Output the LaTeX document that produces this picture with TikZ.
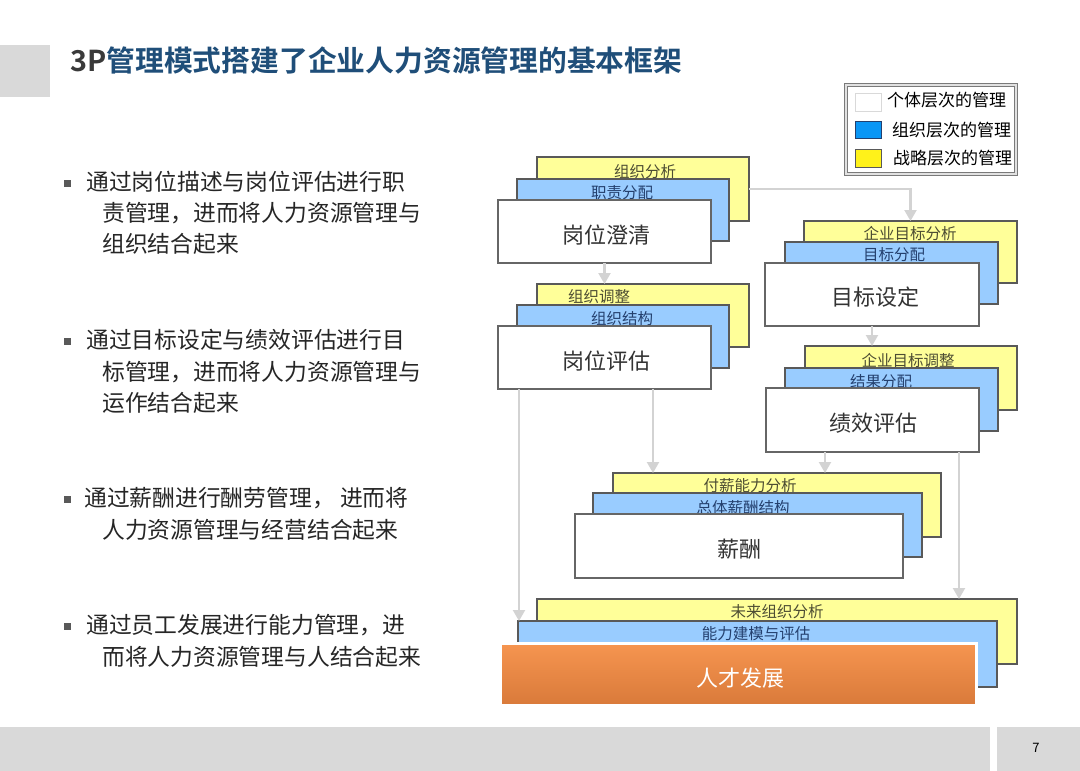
\documentclass[tikz,border=0pt]{standalone}
\usepackage{fontspec}
\setmainfont{Noto Sans CJK SC}[BoldFont={Noto Sans CJK SC Bold}]
\usetikzlibrary{arrows.meta,shadows}
\definecolor{barGray}{HTML}{D9D9D9}
\definecolor{titleBlue}{HTML}{1F4E79}
\definecolor{titleGray}{HTML}{3A3A3A}
\definecolor{lYellow}{HTML}{FFFF99}
\definecolor{lBlue}{HTML}{99CCFF}
\definecolor{boxLine}{HTML}{595959}
\definecolor{wLine}{HTML}{666666}
\definecolor{yText}{HTML}{4D4D33}
\definecolor{bText}{HTML}{24406E}
\definecolor{mText}{HTML}{333333}
\definecolor{arrGray}{HTML}{D3D3D3}
\definecolor{legBlue}{HTML}{0A96F5}
\definecolor{legYellow}{HTML}{FFF21A}
\definecolor{orTop}{HTML}{F69550}
\definecolor{orBot}{HTML}{D97A3A}
\definecolor{bodyText}{HTML}{262626}
\newcommand\mybox[6]{\node[#1, minimum width={#5-#3}, minimum height={#6-#4}] (#2) at ({(#3+#5)/2},{(#4+#6)/2}) {};}
\begin{document}
\begin{tikzpicture}[x=1pt,y=-1pt,
  ybox/.style={draw=boxLine, fill=lYellow, line width=1.2pt, inner sep=0pt, outer sep=0pt},
  bbox/.style={draw=boxLine, fill=lBlue, line width=1.2pt, inner sep=0pt, outer sep=0pt},
  wbox/.style={draw=wLine, fill=white, line width=1.6pt, inner sep=0pt, outer sep=0pt},
  ylab/.style={font=\fontsize{15.5}{16}\selectfont, text=yText, inner sep=0pt},
  blab/.style={font=\fontsize{15.5}{16}\selectfont, text=bText, inner sep=0pt},
  mlab/.style={font=\fontsize{22}{22}\selectfont, text=mText, inner sep=0pt},
  body/.style={font=\fontsize{22.8}{23}\selectfont, text=bodyText, inner sep=0pt, anchor=west},
  bullet/.style={fill=boxLine, minimum size=7pt, inner sep=0pt},
  legtext/.style={font=\fontsize{17}{17}\selectfont, text=black, inner sep=0pt, anchor=west},
  arr/.style={draw=arrGray, line width=2.2pt, -{Triangle[width=12pt,length=11pt]}}
]
\useasboundingbox (0,0) rectangle (1080,771);
\fill[white] (0,0) rectangle (1080,771);
% header
\fill[barGray] (0,45) rectangle (50,97);
\node[anchor=west, inner sep=0pt, font=\bfseries\fontsize{28.8}{29}\selectfont] (title) at (70,60)
  {\textcolor{titleGray}{3P}\textcolor{titleBlue}{管理模式搭建了企业人力资源管理的基本框架}};
% footer
\fill[barGray] (0,727) rectangle (990,771);
\fill[barGray] (997,727) rectangle (1080,771);
\node[inner sep=0pt, font=\fontsize{13}{13}\selectfont] (pgno) at (1036,748) {7};
% legend
\node[draw=boxLine!80, double=barGray!80, double distance=2pt, line width=1pt, fill=white,
  minimum width=170pt, minimum height=89pt, inner sep=0pt] (leg) at (931,129.5) {};
\mybox{draw=barGray, fill=white, line width=0.8pt, inner sep=0pt}{lw}{855}{93}{881}{111}
\mybox{draw=bText, fill=legBlue, line width=0.8pt, inner sep=0pt}{lb}{855}{121}{881}{138}
\mybox{draw=boxLine, fill=legYellow, line width=0.8pt, inner sep=0pt}{ly}{855}{149}{881}{167}
\node[legtext] (lwt) at (887,100) {个体层次的管理};
\node[legtext] (lbt) at (892,130) {组织层次的管理};
\node[legtext] (lyt) at (893,158) {战略层次的管理};
% left text
\node[bullet] (d1) at (67.5,183) {};
\node[body] (t1a) at (86,182) {通过岗位描述与岗位评估进行职};
\node[body] (t1b) at (102,213) {责管理，进而将人力资源管理与};
\node[body] (t1c) at (102,244) {组织结合起来};
\node[bullet] (d2) at (67.5,341) {};
\node[body] (t2a) at (86,340) {通过目标设定与绩效评估进行目};
\node[body] (t2b) at (102,372) {标管理，进而将人力资源管理与};
\node[body] (t2c) at (102,403) {运作结合起来};
\node[bullet] (d3) at (67.5,499) {};
\node[body] (t3a) at (84,498) {通过薪酬进行酬劳管理， 进而将};
\node[body] (t3b) at (102,530) {人力资源管理与经营结合起来};
\node[bullet] (d4) at (67.5,626) {};
\node[body] (t4a) at (86,625) {通过员工发展进行能力管理，进};
\node[body] (t4b) at (102,657) {而将人力资源管理与人结合起来};
% group 1
\mybox{ybox}{y1}{537}{157}{749}{221}
\node[ylab] (y1t) at (645,172) {组织分析};
\mybox{bbox}{b1}{517}{179}{729}{241}
\node[blab] (b1t) at (622,193) {职责分配};
\mybox{wbox}{w1}{498}{200}{711}{263}
\node[mlab] (w1t) at (606,235) {岗位澄清};
% group 2
\mybox{ybox}{y2}{804}{221}{1017}{283}
\node[ylab] (y2t) at (910,234) {企业目标分析};
\mybox{bbox}{b2}{785}{242}{998}{304}
\node[blab] (b2t) at (894,255) {目标分配};
\mybox{wbox}{w2}{765}{263}{979}{326}
\node[mlab] (w2t) at (875,297) {目标设定};
% group 3
\mybox{ybox}{y3}{537}{284}{749}{347}
\node[ylab] (y3t) at (599,297) {组织调整};
\mybox{bbox}{b3}{517}{305}{729}{368}
\node[blab] (b3t) at (622,319) {组织结构};
\mybox{wbox}{w3}{498}{326}{711}{389}
\node[mlab] (w3t) at (606,361) {岗位评估};
% group 4
\mybox{ybox}{y4}{805}{346}{1017}{410}
\node[ylab] (y4t) at (908,361) {企业目标调整};
\mybox{bbox}{b4}{785}{368}{998}{431}
\node[blab] (b4t) at (881,382) {结果分配};
\mybox{wbox}{w4}{766}{388}{979}{452}
\node[mlab] (w4t) at (873,423) {绩效评估};
% group 5
\mybox{ybox}{y5}{613}{473}{941}{537}
\node[ylab] (y5t) at (750,486) {付薪能力分析};
\mybox{bbox}{b5}{593}{493}{922}{557}
\node[blab] (b5t) at (743,508) {总体薪酬结构};
\mybox{wbox}{w5}{575}{514}{903}{578}
\node[mlab] (w5t) at (739,549) {薪酬};
% group 6
\mybox{ybox}{y6}{537}{599}{1017}{664}
\node[ylab] (y6t) at (777,612) {未来组织分析};
\mybox{bbox}{b6}{518}{621}{997}{687}
\node[blab] (b6t) at (756,634) {能力建模与评估};
\mybox{draw=white, line width=3pt, top color=orTop, middle color=orTop, bottom color=orBot, inner sep=0pt, outer sep=0pt,
  drop shadow={shadow xshift=1pt, shadow yshift=-2pt, opacity=0.35}}{o6}{500}{643}{976}{705}
\node[mlab, text=white] (o6t) at (740,678) {人才发展};
% connectors
\coordinate (s4) at ([xshift=21pt]w3.south west);
\coordinate (s5) at ([xshift=155pt]w3.south west);
\coordinate (s6) at ([xshift=59pt]w4.south west);
\coordinate (s7) at ([xshift=193pt]w4.south west);
\draw[arr] (y1.east) -| (y2.north);
\draw[arr] (w1.south) -- (w1.south |- y3.north);
\draw[arr] (w2.south) -- (w2.south |- y4.north);
\draw[arr] (s4) -- (s4 |- b6.north);
\draw[arr] (s5) -- (s5 |- y5.north);
\draw[arr] (s6) -- (s6 |- y5.north);
\draw[arr] (s7) -- (s7 |- y6.north);
\end{tikzpicture}
\end{document}
